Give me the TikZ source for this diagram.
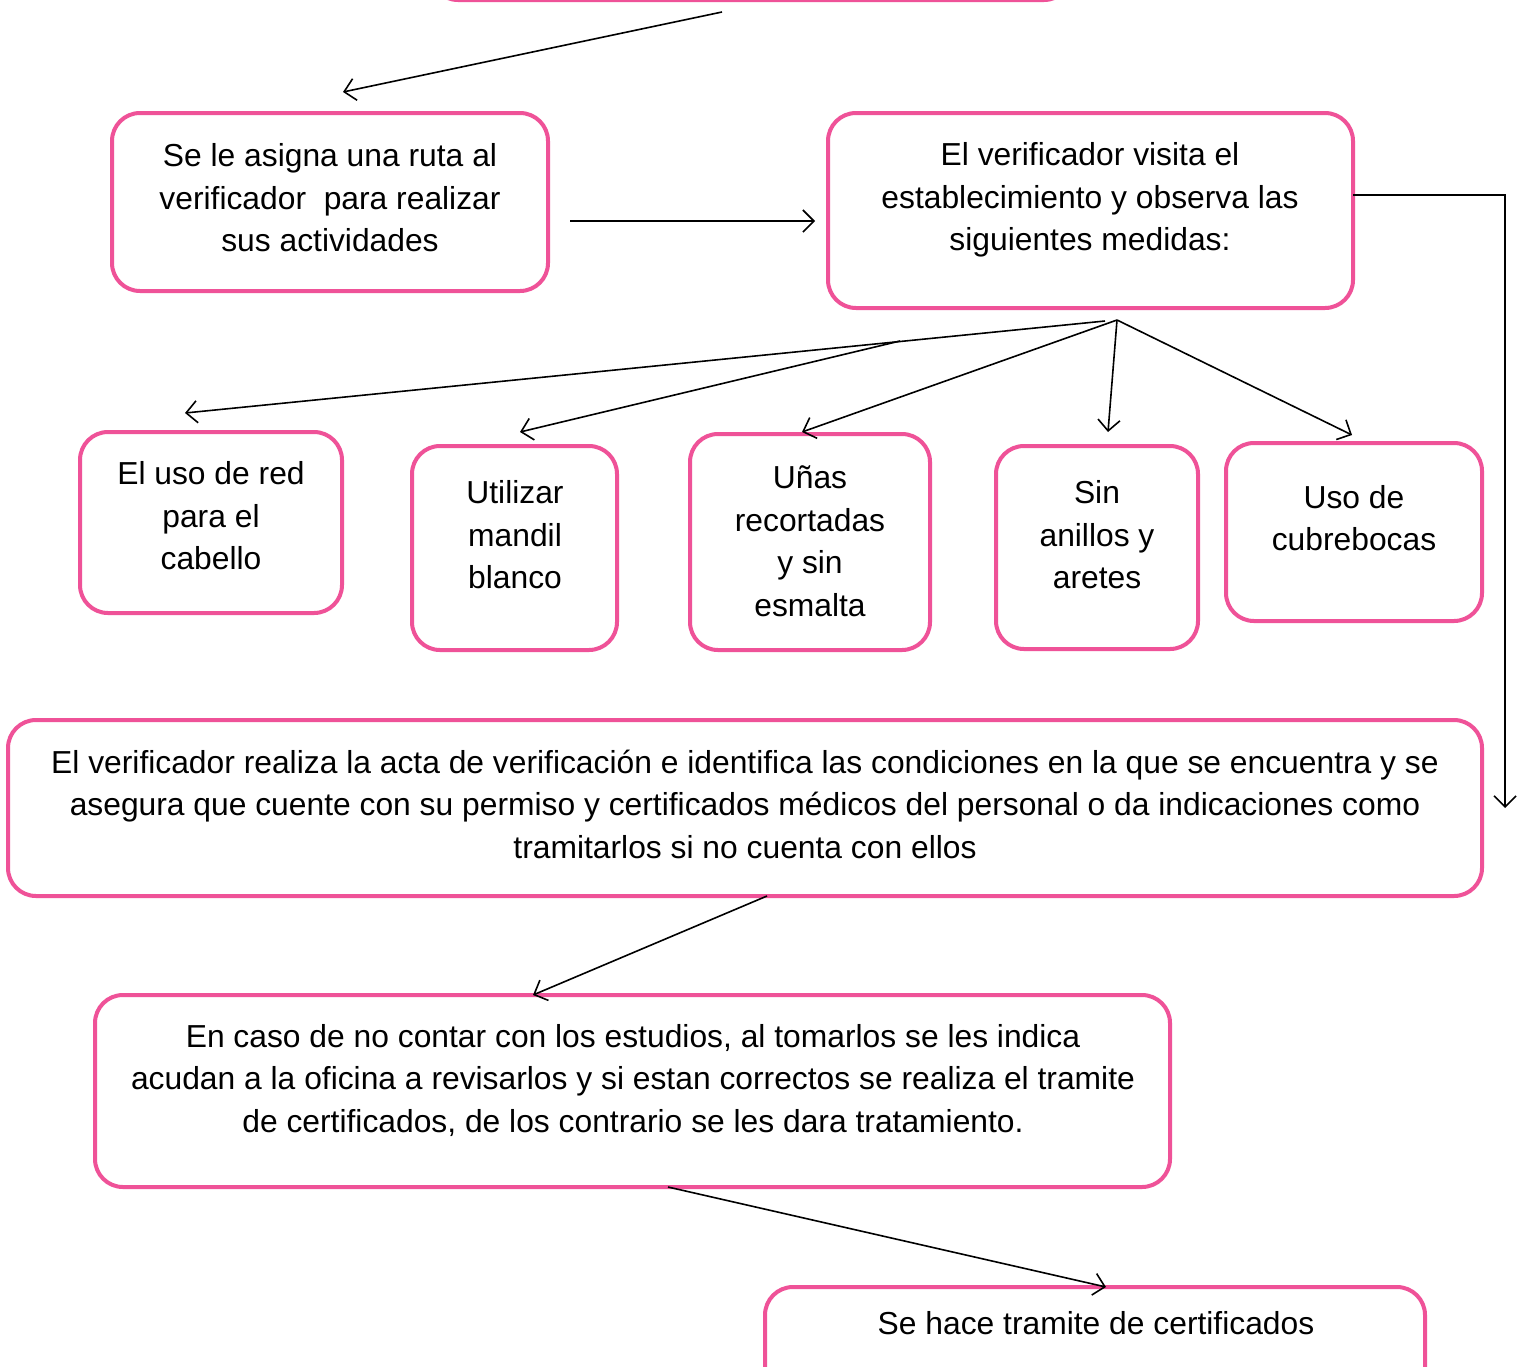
\documentclass[tikz,border=0pt]{standalone}
\usepackage{fontspec}
\setmainfont{Liberation Sans}
\usetikzlibrary{fit,arrows.meta}
\definecolor{pinkb}{RGB}{239,82,152}
\tikzset{
  box/.style={draw=pinkb, line width=4pt, rounded corners=28pt, fill=white, inner sep=0pt},
  txt/.style={align=center, font=\fontsize{31.8}{42.5}\selectfont, inner sep=0pt},
  arr/.style={draw=black, line width=1.6pt, -{Straight Barb[length=11pt,width=22pt,line width=1.6pt]}},
  ln/.style={draw=black, line width=1.6pt}
}
\begin{document}
\begin{tikzpicture}[x=1pt,y=-1pt]
\useasboundingbox (0,0) rectangle (1523,1366);
\clip (0,0) rectangle (1523,1366);
\fill[white] (0,0) rectangle (1523,1366);
% boxes
\node[box, fit={(430,-100) (1072,0)}] (T) {};
\node[box, fit={(112,113) (548,291)}] (A) {};
\node[txt] (At) at (330,198) {Se le asigna una ruta al\\verificador\ \ para realizar\\sus actividades};
\node[box, fit={(828,113) (1353,308)}] (B) {};
\node[txt] (Bt) at (1090,200) {El verificador visita el\\establecimiento y observa las\\siguientes medidas:};
\node[box, fit={(80,432) (342,613)}] (C1) {};
\node[txt] (C1t) at (211,516) {El uso de red\\para el\\cabello};
\node[box, fit={(412,446) (617,650)}] (C2) {};
\node[txt] (C2t) at (515,535) {Utilizar\\mandil\\blanco};
\node[box, fit={(690,434) (930,650)}] (C3) {};
\node[txt] (C3t) at (810,541) {Uñas\\recortadas\\y sin\\esmalta};
\node[box, fit={(996,446) (1198,649)}] (C4) {};
\node[txt] (C4t) at (1097,535) {Sin\\anillos y\\aretes};
\node[box, fit={(1226,443) (1482,621)}] (C5) {};
\node[txt] (C5t) at (1354,518) {Uso de\\cubrebocas};
\node[box, fit={(8,720) (1482,896)}] (D) {};
\node[txt] (Dt) at (745,804) {El verificador realiza la acta de verificación e identifica las condiciones en la que se encuentra y se\\asegura que cuente con su permiso y certificados médicos del personal o da indicaciones como\\tramitarlos si no cuenta con ellos};
\node[box, fit={(95,995) (1170,1187)}] (E) {};
\node[txt] (Et) at (633,1080) {En caso de no contar con los estudios, al tomarlos se les indica\\acudan a la oficina a revisarlos y si estan correctos se realiza el tramite\\de certificados, de los contrario se les dara tratamiento.};
\node[box, fit={(765,1287) (1425,1420)}] (F) {};
\node[txt] (Ft) at (1096,1323) {Se hace tramite de certificados};
% coordinates
\coordinate (t0) at (722,12);
\coordinate (t1) at (343,92);
\coordinate (a0) at (570,221);
\coordinate (a1) at (815,221);
\coordinate (b0) at (1353,195);
\coordinate (b1) at (1505,195);
\coordinate (b2) at (1505,808);
\coordinate (f0) at (1117,320);
\coordinate (f1) at (1105,321);
\coordinate (f2) at (900,341);
\coordinate (p1) at (185,413);
\coordinate (p2) at (520,432);
\coordinate (p3) at (802,432);
\coordinate (p4) at (1108,432);
\coordinate (p5) at (1352,435);
\coordinate (d0) at (767,896);
\coordinate (d1) at (533,995);
\coordinate (e0) at (668,1187);
\coordinate (e1) at (1106,1287);
% connectors
\draw[arr] (t0) -- (t1);
\draw[arr] (a0) -- (a1);
\draw[arr] (b0) -- (b1) -- (b2);
\draw[arr] (f1) -- (p1);
\draw[arr] (f2) -- (p2);
\draw[arr] (f0) -- (p3);
\draw[arr] (f0) -- (p4);
\draw[arr] (f0) -- (p5);
\draw[arr] (d0) -- (d1);
\draw[arr] (e0) -- (e1);
\end{tikzpicture}
\end{document}
